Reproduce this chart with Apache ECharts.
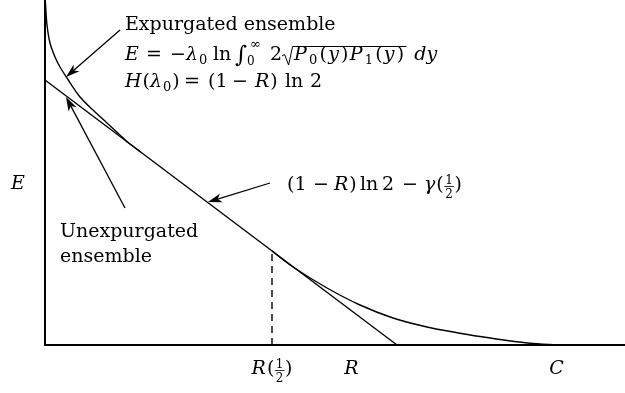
<!DOCTYPE html>
<html>
<head>
<meta charset="utf-8">
<script src="https://cdn.jsdelivr.net/npm/echarts@6/dist/echarts.min.js"></script>
<style>
html, body { margin: 0; padding: 0; background: #fff; }
#chart { width: 625px; height: 393px; }
</style>
</head>
<body>
<div id="chart"></div>
<script>
// expurgated ensemble exponent at low rates
const expR = [0.005, 0.02, 0.05, 0.10, 0.15, 0.22, 0.35, 0.48, 0.62, 0.75, 0.85, 0.95];
const expE = [3.42, 3.20, 3.02, 2.88, 2.78, 2.67, 2.48, 2.35, 2.22, 2.10, 2.01, 1.935];
// straight line (1-R) ln2 - gamma(1/2)
const lineR = [0, 3.52];
const lineE = [2.65, 0];
// random coding exponent above R(1/2)
const rcR = [2.27, 2.48, 2.82, 3.15, 3.48, 3.82, 4.15, 4.35, 4.62, 4.88, 5.12];
const rcE = [0.94, 0.78, 0.57, 0.40, 0.27, 0.18, 0.118, 0.085, 0.045, 0.015, 0];
const rHalf = 2.27;
const tickR = [2.27, 3.07, 5.12];
const tickNames = ['R(½)', 'R', 'C'];
// annotation arrows: [fromR, fromE, toR, toE]
const arrows = [
    [0.75, 3.15, 0.21, 2.68],
    [0.80, 1.37, 0.21, 2.48],
    [2.25, 1.62, 1.63, 1.43]
];

const SERIF = '"DejaVu Serif", serif';
const FS = 19;
const mctx = document.createElement('canvas').getContext('2d');
function fontOf(size, italic) {
    return (italic ? 'italic ' : '') + size + 'px ' + SERIF;
}
function textW(t, size, italic) {
    mctx.font = fontOf(size, italic);
    return mctx.measureText(t).width;
}
function txt(x, base, t, size, italic, align) {
    return {
        type: 'text', x: x, y: base - 0.32 * size, silent: true,
        style: { text: t, font: fontOf(size, italic), fill: '#000', align: align || 'left', verticalAlign: 'middle' }
    };
}
function hline(x1, x2, y, w) {
    return { type: 'line', silent: true, shape: { x1: x1, y1: y, x2: x2, y2: y }, style: { stroke: '#000', lineWidth: w || 1 } };
}

// lays out a row of math pieces from x at baseline, pushes elements to out, returns end x
// {at: n} jumps to an absolute x so the spacing follows the original typesetting
function layout(x, base, parts, out, track) {
    track = track || 0;
    parts.forEach(p => {
        if (typeof p === 'string') {
            out.push(txt(x, base, p, FS, false));
            x += textW(p, FS, false) + track;
        } else if (p.i) {
            out.push(txt(x, base, p.i, FS, true));
            x += textW(p.i, FS, true) + 1 + track;
        } else if (p.sub) {
            out.push(txt(x, base + 4, p.sub, 13, false));
            x += textW(p.sub, 13, false) + 1 + track;
        } else if (p.big) {
            out.push(txt(x, base + 2, p.big, 23, false));
            x += textW(p.big, 23, false);
        } else if (p.lim) {
            out.push(txt(x, base + 5, p.lim[0], 12, false));
            out.push(txt(x + 3, base - 12, p.lim[1], 13, false));
            x += Math.max(textW(p.lim[0], 12), textW(p.lim[1], 13) + 3) + 1;
        } else if (p.frac) {
            const w = Math.max(textW(p.frac[0], 12), textW(p.frac[1], 12)) + 3;
            const c = x + w / 2;
            out.push(txt(c, base - 6, p.frac[0], 12, false, 'center'));
            out.push(txt(c, base + 7.5, p.frac[1], 12, false, 'center'));
            out.push(hline(x + 0.5, x + w - 0.5, base - 4.5, 0.8));
            x += w;
        } else if (p.sqrt) {
            const x0 = x;
            const end = layout(x + 12, base, p.sqrt, out, 1.2);
            out.push({
                type: 'polyline', silent: true,
                shape: { points: [[x0, base - 5], [x0 + 2.5, base - 6.5], [x0 + 6.5, base + 4], [x0 + 10.5, base - 14.5], [end + 1, base - 14.5]] },
                style: { stroke: '#000', lineWidth: 1, fill: null }
            });
            x = end + 1;
        } else if (p.sp) {
            x += p.sp;
        } else if (p.at) {
            x = p.at;
        }
    });
    return x;
}

function labelParts(s) {
    return Array.from(s).map(ch => ch === '½' ? { frac: ['1', '2'] } : /[A-Za-z]/.test(ch) ? { i: ch } : ch);
}

const chart = echarts.init(document.getElementById('chart'));

chart.setOption({
    animation: false,
    backgroundColor: '#fff',
    grid: { left: 45, right: 0, top: 0, bottom: 48 },
    xAxis: {
        type: 'value', min: 0, max: 5.8,
        axisLine: { show: true, lineStyle: { color: '#000', width: 2 } },
        axisTick: { show: false }, axisLabel: { show: false }, splitLine: { show: false }
    },
    yAxis: {
        type: 'value', min: 0, max: 3.45,
        axisLine: { show: true, lineStyle: { color: '#000', width: 2 } },
        axisTick: { show: false }, axisLabel: { show: false }, splitLine: { show: false }
    },
    series: [
        {
            type: 'line', data: expR.map((r, i) => [r, expE[i]]),
            symbol: 'none', smooth: 0.3,
            lineStyle: { color: '#000', width: 1.4 }
        },
        {
            type: 'line', data: lineR.map((r, i) => [r, lineE[i]]),
            symbol: 'none', lineStyle: { color: '#000', width: 1.4 }
        },
        {
            type: 'line', data: rcR.map((r, i) => [r, rcE[i]]),
            symbol: 'none', smooth: 0.3,
            lineStyle: { color: '#000', width: 1.4 }
        },
        {
            type: 'line', data: [[rHalf, 0], [rHalf, rcE[0]]],
            symbol: 'none', lineStyle: { color: '#000', width: 1.4, type: [7, 5] }
        },
        {
            type: 'custom', data: arrows,
            encode: { x: [0, 2], y: [1, 3] },
            renderItem: (params, api) => {
                const a = api.coord([api.value(0), api.value(1)]);
                const b = api.coord([api.value(2), api.value(3)]);
                const dx = b[0] - a[0], dy = b[1] - a[1], len = Math.hypot(dx, dy);
                const ux = dx / len, uy = dy / len, nx = -uy, ny = ux;
                const L = 14, W = 4.5;
                const bk = [b[0] - ux * L, b[1] - uy * L];
                return {
                    type: 'group',
                    children: [
                        { type: 'line', shape: { x1: a[0], y1: a[1], x2: b[0] - ux * L * 0.6, y2: b[1] - uy * L * 0.6 }, style: { stroke: '#000', lineWidth: 1.3 } },
                        {
                            type: 'polygon',
                            shape: { points: [b, [bk[0] + nx * W, bk[1] + ny * W], [b[0] - ux * L * 0.72, b[1] - uy * L * 0.72], [bk[0] - nx * W, bk[1] - ny * W]] },
                            style: { fill: '#000' }
                        }
                    ]
                };
            }
        }
    ]
});

// text annotations
const g = [];
layout(125, 31, ['Expurgated ensemble'], g);
layout(125, 61, [
    { i: 'E' }, { at: 146 }, '=', { at: 170 }, '−', { i: 'λ' }, { sub: '0' }, { at: 213 }, 'ln', { at: 235 },
    { big: '∫' }, { lim: ['0', '∞'] }, { at: 270 }, '2',
    { sqrt: [{ i: 'P' }, { sub: '0' }, '(', { i: 'y' }, ')', { i: 'P' }, { sub: '1' }, '(', { i: 'y' }, ')'] },
    { sp: 8 }, { i: 'dy' }
], g);
layout(125, 88, [
    { i: 'H' }, '(', { i: 'λ' }, { sub: '0' }, ')', { at: 184 }, '=', { at: 208 }, '(1', { at: 232 }, '−',
    { at: 255 }, { i: 'R' }, ')', { at: 285 }, 'ln', { at: 310 }, '2'
], g);
layout(287, 191, [
    '(1', { at: 313 }, '−', { at: 334 }, { i: 'R' }, ')', { at: 360 }, 'ln', { at: 382 }, '2', { at: 402 }, '−',
    { at: 424 }, { i: 'γ' }, '(', { frac: ['1', '2'] }, ')'
], g);
layout(60, 238, ['Unexpurgated'], g);
layout(60, 263, ['ensemble'], g);
layout(11, 190, [{ i: 'E' }], g);

// rate labels under the axis
tickR.forEach((r, k) => {
    const tmp = [];
    const w = layout(0, 375, labelParts(tickNames[k]), tmp);
    const cx = chart.convertToPixel({ xAxisIndex: 0 }, r);
    const off = cx - w / 2;
    tmp.forEach(el => {
        if (el.type === 'line') { el.shape.x1 += off; el.shape.x2 += off; } else { el.x += off; }
        g.push(el);
    });
});

chart.setOption({ graphic: g });
</script>
</body>
</html>
